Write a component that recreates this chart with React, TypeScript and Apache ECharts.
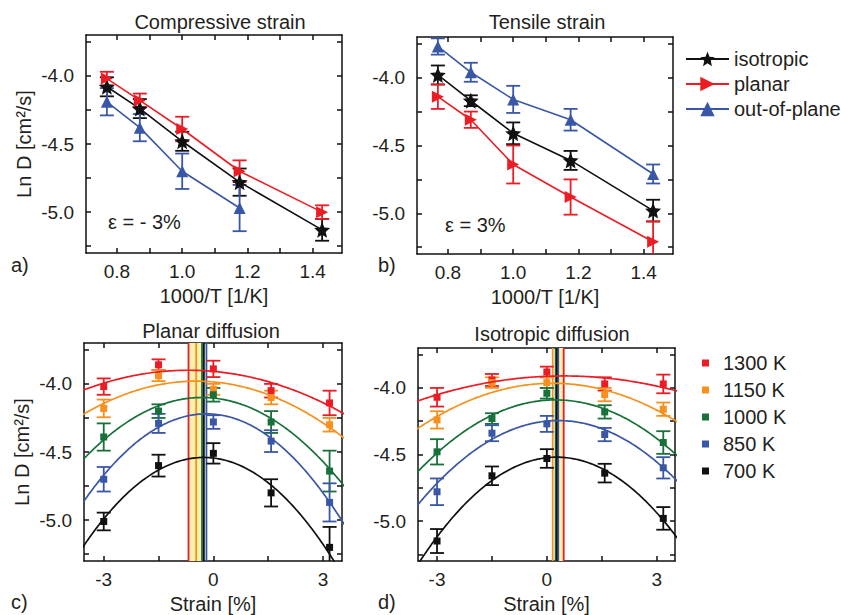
import React, { useEffect, useRef } from 'react';
import * as echarts from 'echarts';

// ---------------- data ----------------
const invT = [0.769, 0.87, 1.0, 1.176, 1.429];
const invTOut = [0.769, 0.87, 1.0, 1.176];

const compIso = [-4.08, -4.24, -4.48, -4.78, -5.13];
const compIsoErr = [0.07, 0.07, 0.07, 0.1, 0.08];
const compPlanar = [-4.02, -4.18, -4.39, -4.7, -5.0];
const compPlanarErr = [0.05, 0.05, 0.09, 0.08, 0.05];
const compOut = [-4.19, -4.38, -4.7, -4.97];
const compOutErr = [0.1, 0.1, 0.13, 0.17];

const tensIso = [-3.98, -4.17, -4.41, -4.61, -4.98];
const tensIsoErr = [0.07, 0.04, 0.08, 0.07, 0.08];
const tensPlanar = [-4.14, -4.31, -4.64, -4.88, -5.21];
const tensPlanarErr = [0.09, 0.06, 0.14, 0.13, 0.15];
const tensOut = [-3.77, -3.96, -4.16, -4.31, -4.71];
const tensOutErr = [0.06, 0.07, 0.1, 0.08, 0.07];

const strain = [-3, -1.5, 0, 1.58, 3.18];
const temps = ['1300 K', '1150 K', '1000 K', '850 K', '700 K'];

// planar diffusion (panel c)
const planar1300 = [-4.02, -3.86, -3.89, -4.05, -4.14];
const planar1150 = [-4.18, -3.94, -4.04, -4.1, -4.3];
const planar1000 = [-4.39, -4.2, -4.08, -4.28, -4.64];
const planar850 = [-4.7, -4.29, -4.28, -4.42, -4.87];
const planar700 = [-5.01, -4.6, -4.51, -4.8, -5.2];
const planar1300Err = [0.06, 0.04, 0.06, 0.05, 0.09];
const planar1150Err = [0.065, 0.04, 0.04, 0.05, 0.05];
const planar1000Err = [0.1, 0.05, 0.05, 0.08, 0.15];
const planar850Err = [0.09, 0.07, 0.05, 0.08, 0.14];
const planar700Err = [0.065, 0.08, 0.075, 0.1, 0.15];
// parabolic fits: vertex strain, peak Ln D, curvature
const planarFitCenter = [-0.68, -0.47, -0.31, -0.19, -0.26];
const planarFitPeak = [-3.9, -3.98, -4.1, -4.22, -4.54];
const planarFitCurv = [0.0176, 0.0255, 0.043, 0.057, 0.06];
const planarBand = [-0.68, -0.27];

// isotropic diffusion (panel d)
const iso1300 = [-4.07, -3.94, -3.88, -3.97, -3.97];
const iso1150 = [-4.24, -3.96, -3.96, -4.05, -4.16];
const iso1000 = [-4.48, -4.23, -4.04, -4.18, -4.41];
const iso850 = [-4.78, -4.34, -4.27, -4.35, -4.6];
const iso700 = [-5.15, -4.66, -4.53, -4.64, -4.98];
const iso1300Err = [0.07, 0.045, 0.04, 0.05, 0.07];
const iso1150Err = [0.065, 0.04, 0.04, 0.05, 0.05];
const iso1000Err = [0.095, 0.04, 0.04, 0.05, 0.085];
const iso850Err = [0.1, 0.06, 0.06, 0.05, 0.08];
const iso700Err = [0.09, 0.07, 0.07, 0.07, 0.085];
const isoFitCenter = [0.46, 0.16, 0.24, 0.31, 0.27];
const isoFitPeak = [-3.91, -3.965, -4.09, -4.245, -4.52];
const isoFitCurv = [0.0118, 0.025, 0.038, 0.043, 0.056];
const isoBand = [0.31, 0.46];

const xTicksAB = [0.8, 0.9, 1.0, 1.1, 1.2, 1.3, 1.4];
const xLabelsAB = [0.8, 1.0, 1.2, 1.4];
const yTicks = [-5.25, -5, -4.75, -4.5, -4.25, -4, -3.75];
const yLabels = [-5, -4.5, -4];
const xTicksCD = [-3, -1.5, 0, 1.5, 3];
const xLabelsCD = [-3, 0, 3];

// ---------------- styles ----------------
const FONT = "'Liberation Sans', Arial, Helvetica, sans-serif";
const TXT = '#231f20';
const RED = '#ec1c24';
const ORANGE = '#f7901e';
const GREEN = '#18703a';
const BLUE = '#3a57a7';
const BLACK = '#111111';
const tempColors = [RED, ORANGE, GREEN, BLUE, BLACK];
const STAR =
  'path://M0,-10L2.65,-3.64L9.51,-3.09L4.28,1.39L5.88,8.09L0,4.5L-5.88,8.09L-4.28,1.39L-9.51,-3.09L-2.65,-3.64Z';

const grids = [
  { left: 86, top: 35, width: 256, height: 218 },
  { left: 417, top: 37, width: 256, height: 217 },
  { left: 84, top: 343, width: 258, height: 218 },
  { left: 418, top: 348, width: 257, height: 217 },
];

const axisLine = { show: true, onZero: false, lineStyle: { color: BLACK, width: 1.5 } };
const tickStyle = { color: BLACK, width: 1.5 };

function xAxes(gi: number, min: number, max: number, ticks: number[], labels: number[], name: string, fmt: (v: number) => string) {
  return [
    {
      type: 'value', gridIndex: gi, min, max, position: 'bottom', axisLine,
      axisTick: { show: true, inside: true, length: 5, customValues: ticks, lineStyle: tickStyle },
      axisLabel: { show: true, customValues: labels, formatter: fmt, fontSize: 19, fontFamily: FONT, color: TXT, margin: 9 },
      splitLine: { show: false },
      name, nameLocation: 'middle', nameGap: 33,
      nameTextStyle: { fontSize: 20, fontFamily: FONT, color: TXT },
    },
    {
      type: 'value', gridIndex: gi, min, max, position: 'top', axisLine,
      axisTick: { show: true, inside: true, length: 5, customValues: ticks, lineStyle: tickStyle },
      axisLabel: { show: false }, splitLine: { show: false },
    },
  ];
}

function yAxes(gi: number, name: string) {
  return [
    {
      type: 'value', gridIndex: gi, min: -5.3, max: -3.7, position: 'left', axisLine,
      axisTick: { show: true, inside: true, length: 5, customValues: yTicks, lineStyle: tickStyle },
      axisLabel: { show: true, customValues: yLabels, formatter: (v: number) => v.toFixed(1), fontSize: 19, fontFamily: FONT, color: TXT, margin: 12 },
      splitLine: { show: false },
      name, nameLocation: 'middle', nameGap: 52,
      nameTextStyle: { fontSize: 20, fontFamily: FONT, color: TXT },
    },
    {
      type: 'value', gridIndex: gi, min: -5.3, max: -3.7, position: 'right', axisLine,
      axisTick: { show: true, inside: true, length: 5, customValues: yTicks, lineStyle: tickStyle },
      axisLabel: { show: false }, splitLine: { show: false },
    },
  ];
}

function errSeries(gi: number, xs: number[], ys: number[], es: number[], color: string) {
  return {
    type: 'custom', xAxisIndex: gi * 2, yAxisIndex: gi * 2, clip: true, silent: true,
    data: xs.map((x, i) => [x, ys[i], es[i]]),
    renderItem: (params: any, api: any) => {
      const x = api.value(0), y = api.value(1), e = api.value(2);
      const t = api.coord([x, y + e]);
      const b = api.coord([x, y - e]);
      const hw = 7;
      const style = { stroke: color, lineWidth: 1.8, fill: null };
      return {
        type: 'group',
        children: [
          { type: 'line', shape: { x1: t[0], y1: t[1], x2: b[0], y2: b[1] }, style },
          { type: 'line', shape: { x1: t[0] - hw, y1: t[1], x2: t[0] + hw, y2: t[1] }, style },
          { type: 'line', shape: { x1: b[0] - hw, y1: b[1], x2: b[0] + hw, y2: b[1] }, style },
        ],
      };
    },
  };
}

function lineSeries(gi: number, name: string, xs: number[], ys: number[], color: string, symbol: string, size: number, rotate = 0) {
  return {
    type: 'line', name, xAxisIndex: gi * 2, yAxisIndex: gi * 2,
    data: xs.map((x, i) => [x, ys[i]]),
    symbol, symbolSize: size, symbolRotate: rotate, showSymbol: true, silent: true,
    lineStyle: { color, width: 1.6 }, itemStyle: { color, opacity: 1 },
  };
}

function fitSeries(gi: number, h: number, p: number, k: number, color: string) {
  const pts: number[][] = [];
  for (let i = 0; i <= 150; i++) {
    const x = -3.75 + i * 0.05;
    pts.push([x, p - k * (x - h) * (x - h)]);
  }
  return {
    type: 'line', name: 'fit', xAxisIndex: gi * 2, yAxisIndex: gi * 2, data: pts,
    showSymbol: false, symbol: 'none', clip: true, silent: true, smooth: false,
    lineStyle: { color, width: 1.7 },
  };
}

function vlineSeries(gi: number, centers: number[], band: number[]) {
  return [
    {
      type: 'custom', xAxisIndex: gi * 2, yAxisIndex: gi * 2, clip: true, silent: true,
      data: [[band[0], band[1]]],
      renderItem: (params: any, api: any) => {
        const cs = params.coordSys;
        const a = api.coord([api.value(0), -4.5])[0];
        const b = api.coord([api.value(1), -4.5])[0];
        return { type: 'rect', shape: { x: a, y: cs.y, width: b - a, height: cs.height }, style: { fill: '#f8f1b0' } };
      },
    },
    {
      type: 'custom', xAxisIndex: gi * 2, yAxisIndex: gi * 2, clip: true, silent: true,
      data: centers.map((c, i) => [c, i]),
      renderItem: (params: any, api: any) => {
        const cs = params.coordSys;
        const px = api.coord([api.value(0), -4.5])[0];
        const ci = api.value(1);
        return { type: 'line', shape: { x1: px, y1: cs.y, x2: px, y2: cs.y + cs.height }, style: { stroke: tempColors[ci], lineWidth: 1.8 } };
      },
    },
  ];
}

function strainPanel(gi: number, vals: number[][], errs: number[][], hs: number[], ps: number[], ks: number[], band: number[]) {
  const s: any[] = [...vlineSeries(gi, hs, band)];
  vals.forEach((_, i) => s.push(fitSeries(gi, hs[i], ps[i], ks[i], tempColors[i])));
  vals.forEach((v, i) => s.push(errSeries(gi, strain, v, errs[i], tempColors[i])));
  vals.forEach((v, i) =>
    s.push({
      type: 'scatter', name: temps[i], xAxisIndex: gi * 2, yAxisIndex: gi * 2,
      data: strain.map((x, j) => [x, v[j]]), symbol: 'rect', symbolSize: 7, silent: true,
      itemStyle: { color: tempColors[i], opacity: 1 },
    })
  );
  return s;
}

export default function App() {
  const ref = useRef<HTMLDivElement>(null);
  useEffect(() => {
    document.body.style.margin = '0';
    if (!ref.current) return;
    const chart = echarts.init(ref.current, null, { renderer: 'svg' });
    const fmt1 = (v: number) => v.toFixed(1);
    const fmt0 = (v: number) => String(Math.round(v));
    const series: any[] = [
      errSeries(0, invT, compIso, compIsoErr, BLACK),
      errSeries(0, invT, compPlanar, compPlanarErr, RED),
      errSeries(0, invTOut, compOut, compOutErr, BLUE),
      lineSeries(0, 'isotropic', invT, compIso, BLACK, STAR, 16),
      lineSeries(0, 'planar', invT, compPlanar, RED, 'triangle', 12, -90),
      lineSeries(0, 'out-of-plane', invTOut, compOut, BLUE, 'triangle', 12),
      errSeries(1, invT, tensIso, tensIsoErr, BLACK),
      errSeries(1, invT, tensPlanar, tensPlanarErr, RED),
      errSeries(1, invT, tensOut, tensOutErr, BLUE),
      lineSeries(1, 'isotropic', invT, tensIso, BLACK, STAR, 16),
      lineSeries(1, 'planar', invT, tensPlanar, RED, 'triangle', 12, -90),
      lineSeries(1, 'out-of-plane', invT, tensOut, BLUE, 'triangle', 12),
      ...strainPanel(
        2,
        [planar1300, planar1150, planar1000, planar850, planar700],
        [planar1300Err, planar1150Err, planar1000Err, planar850Err, planar700Err],
        planarFitCenter, planarFitPeak, planarFitCurv, planarBand
      ),
      ...strainPanel(
        3,
        [iso1300, iso1150, iso1000, iso850, iso700],
        [iso1300Err, iso1150Err, iso1000Err, iso850Err, iso700Err],
        isoFitCenter, isoFitPeak, isoFitCurv, isoBand
      ),
    ];
    const txt = (text: string, x: number, y: number, align = 'center', size = 20) => ({
      type: 'text', x, y, silent: true,
      style: { text, align, verticalAlign: 'middle', fontSize: size, fontFamily: FONT, fill: TXT },
    });
    chart.setOption({
      animation: false,
      backgroundColor: '#ffffff',
      grid: grids.map((g) => ({ ...g, containLabel: false })),
      xAxis: [
        ...xAxes(0, 0.705, 1.49, xTicksAB, xLabelsAB, '1000/T [1/K]', fmt1),
        ...xAxes(1, 0.705, 1.49, xTicksAB, xLabelsAB, '1000/T [1/K]', fmt1),
        ...xAxes(2, -3.54, 3.52, xTicksCD, xLabelsCD, 'Strain [%]', fmt0),
        ...xAxes(3, -3.52, 3.5, xTicksCD, xLabelsCD, 'Strain [%]', fmt0),
      ],
      yAxis: [...yAxes(0, 'Ln D [cm²/s]'), ...yAxes(1, ''), ...yAxes(2, 'Ln D [cm²/s]'), ...yAxes(3, '')],
      legend: [
        {
          selectedMode: false, orient: 'vertical', left: 680, top: 44,
          itemWidth: 43, itemHeight: 18, itemGap: 5,
          data: ['isotropic', 'planar', 'out-of-plane'],
          textStyle: { fontSize: 20, fontFamily: FONT, color: TXT, lineHeight: 18 },
        },
        {
          selectedMode: false, orient: 'vertical', left: 697, top: 348,
          itemWidth: 7, itemHeight: 7, itemGap: 7, icon: 'rect',
          data: temps,
          textStyle: { fontSize: 20, fontFamily: FONT, color: TXT, lineHeight: 16, padding: [0, 0, 0, 9] },
        },
      ],
      graphic: [
        txt('Compressive strain', 220, 22),
        txt('Tensile strain', 547, 22),
        txt('Planar diffusion', 211, 331),
        txt('Isotropic diffusion', 552, 334),
        txt('a)', 11, 265, 'left'),
        txt('b)', 378, 265, 'left'),
        txt('c)', 11, 602, 'left'),
        txt('d)', 378, 602, 'left'),
        txt('ε = - 3%', 108, 222, 'left'),
        txt('ε = 3%', 445, 225, 'left'),
      ],
      series,
    });
    return () => chart.dispose();
  }, []);
  return <div ref={ref} style={{ width: 841, height: 615 }} />;
}
